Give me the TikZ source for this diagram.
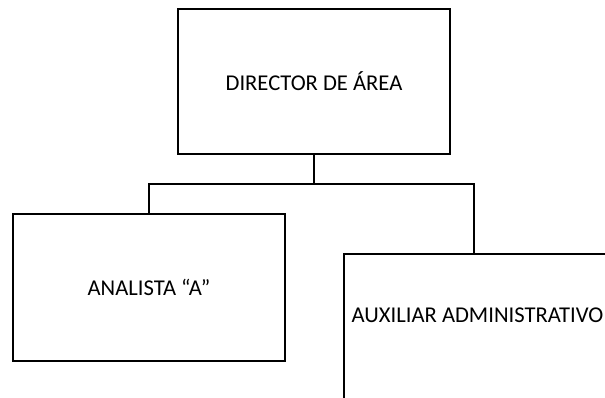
\documentclass[tikz,border=0pt]{standalone}
\usepackage{fontspec}
\setmainfont{Carlito}
\begin{document}
\begin{tikzpicture}[x=1pt,y=1pt,
  box/.style={draw=black, line width=2pt, rectangle, inner sep=0pt},
  lbl/.style={font=\fontsize{22.6}{27}\selectfont, inner sep=0pt},
  conn/.style={draw=black, line width=2pt}]
\useasboundingbox (0,0) rectangle (605,-397);
\clip (0,0) rectangle (605,-397);
\fill[white] (0,0) rectangle (605,-397);
\node[box, minimum width=272.5, minimum height=145, lbl] (dir) at (314,-81.5) {DIRECTOR DE ÁREA};
\node[box, minimum width=272, minimum height=147, lbl] (an) at (149,-287.5) {ANALISTA “A”};
\node[box, minimum width=268, minimum height=180, anchor=north west] (aux) at (343,-253) {};
\node[lbl] (auxt) at (477.5,-315) {AUXILIAR ADMINISTRATIVO};
\coordinate (j) at (314,-184);
\coordinate (auxtop) at (474,-253);
\draw[conn] (dir.south) -- (j);
\draw[conn] (an.north) |- (j) -| (auxtop);
\end{tikzpicture}
\end{document}
